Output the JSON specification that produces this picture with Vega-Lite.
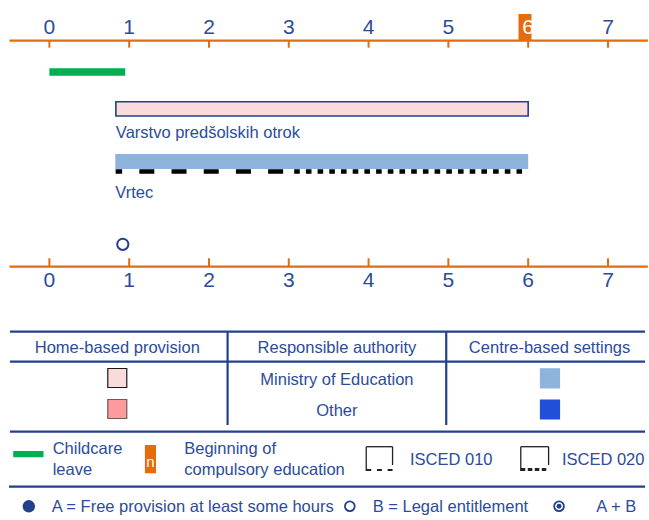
{
  "$schema": "https://vega.github.io/schema/vega-lite/v6.json",
  "width": 649,
  "height": 520,
  "autosize": {"type": "fit", "contains": "padding"},
  "padding": 0,
  "background": "white",
  "config": {"view": {"stroke": null}, "font": "'Liberation Sans', Arial, sans-serif"},
  "resolve": {"scale": {"x": "independent"}},
  "datasets": {
    "ages": [{"age": 0}, {"age": 1}, {"age": 2}, {"age": 3}, {"age": 4}, {"age": 5}, {"age": 6}, {"age": 7}]
  },
  "layer": [
    {
      "data": {"values": [{"from": -0.5, "to": 7.5}]},
      "mark": {"type": "rule", "color": "#E46C0A", "strokeWidth": 2.2},
      "encoding": {
        "x": {"field": "from", "type": "quantitative", "scale": {"domain": [-0.619, 7.464], "nice": false, "zero": false}, "axis": null},
        "x2": {"field": "to"},
        "y": {"datum": 40.7, "type": "quantitative", "scale": {"domain": [0, 520], "reverse": true, "nice": false, "zero": false}, "axis": null}
      }
    },
    {
      "data": {"values": [{"from": -0.5, "to": 7.5}]},
      "mark": {"type": "rule", "color": "#E46C0A", "strokeWidth": 2.2},
      "encoding": {
        "x": {"field": "from", "type": "quantitative", "scale": {"domain": [-0.619, 7.464], "nice": false, "zero": false}, "axis": null},
        "x2": {"field": "to"},
        "y": {"datum": 266.7, "type": "quantitative", "axis": null}
      }
    },
    {
      "data": {"name": "ages"},
      "mark": {"type": "rule", "color": "#E46C0A", "strokeWidth": 2},
      "encoding": {
        "x": {"field": "age", "type": "quantitative", "scale": {"domain": [-0.619, 7.464], "nice": false, "zero": false}, "axis": null},
        "y": {"datum": 41, "type": "quantitative", "axis": null},
        "y2": {"datum": 47.7}
      }
    },
    {
      "data": {"name": "ages"},
      "mark": {"type": "rule", "color": "#E46C0A", "strokeWidth": 2},
      "encoding": {
        "x": {"field": "age", "type": "quantitative", "scale": {"domain": [-0.619, 7.464], "nice": false, "zero": false}, "axis": null},
        "y": {"datum": 258.3, "type": "quantitative", "axis": null},
        "y2": {"datum": 266}
      }
    },
    {
      "data": {"values": [{"age": 6, "note": "Beginning of compulsory education"}]},
      "mark": {"type": "bar", "color": "#E46C0A", "width": 13},
      "encoding": {
        "x": {"field": "age", "type": "quantitative", "scale": {"domain": [-0.619, 7.464], "nice": false, "zero": false}, "axis": null},
        "y": {"datum": 14, "type": "quantitative", "axis": null},
        "y2": {"datum": 40}
      }
    },
    {
      "data": {"name": "ages"},
      "mark": {"type": "text", "fontSize": 21, "baseline": "middle", "align": "center"},
      "encoding": {
        "x": {"field": "age", "type": "quantitative", "scale": {"domain": [-0.619, 7.464], "nice": false, "zero": false}, "axis": null},
        "y": {"datum": 27.8, "type": "quantitative", "axis": null},
        "text": {"field": "age", "type": "quantitative"},
        "color": {"condition": {"test": "datum.age === 6", "value": "white"}, "value": "#2B4C9C"}
      }
    },
    {
      "data": {"name": "ages"},
      "mark": {"type": "text", "fontSize": 21, "baseline": "middle", "align": "center", "color": "#2B4C9C"},
      "encoding": {
        "x": {"field": "age", "type": "quantitative", "scale": {"domain": [-0.619, 7.464], "nice": false, "zero": false}, "axis": null},
        "y": {"datum": 281.3, "type": "quantitative", "axis": null},
        "text": {"field": "age", "type": "quantitative"}
      }
    },
    {
      "data": {"values": [{"provision": "Childcare leave", "start": 0, "end": 0.95}]},
      "mark": {"type": "rect", "color": "#00B050"},
      "encoding": {
        "x": {"field": "start", "type": "quantitative", "scale": {"domain": [-0.619, 7.464], "nice": false, "zero": false}, "axis": null},
        "x2": {"field": "end"},
        "y": {"datum": 68.3, "type": "quantitative", "axis": null},
        "y2": {"datum": 75.7}
      }
    },
    {
      "data": {"values": [{"setting": "Varstvo predšolskih otrok", "start": 0.833, "end": 6}]},
      "mark": {"type": "rect", "fill": "#F9DBDC", "stroke": "#23408F", "strokeWidth": 1.6},
      "encoding": {
        "x": {"field": "start", "type": "quantitative", "scale": {"domain": [-0.619, 7.464], "nice": false, "zero": false}, "axis": null},
        "x2": {"field": "end"},
        "y": {"datum": 101.8, "type": "quantitative", "axis": null},
        "y2": {"datum": 116}
      }
    },
    {
      "data": {"values": [{"setting": "Vrtec", "start": 0.826, "end": 6}]},
      "mark": {"type": "rect", "color": "#8EB4DE"},
      "encoding": {
        "x": {"field": "start", "type": "quantitative", "scale": {"domain": [-0.619, 7.464], "nice": false, "zero": false}, "axis": null},
        "x2": {"field": "end"},
        "y": {"datum": 154, "type": "quantitative", "axis": null},
        "y2": {"datum": 169}
      }
    },
    {
      "data": {"values": [{"level": "ISCED 010", "start": 0.83, "end": 3}]},
      "mark": {"type": "rule", "color": "black", "strokeWidth": 4.5, "strokeDash": [15, 17.2], "strokeDashOffset": 8.5},
      "encoding": {
        "x": {"field": "start", "type": "quantitative", "scale": {"domain": [-0.619, 7.464], "nice": false, "zero": false}, "axis": null},
        "x2": {"field": "end"},
        "y": {"datum": 171.5, "type": "quantitative", "axis": null}
      }
    },
    {
      "data": {"values": [{"level": "ISCED 020", "start": 3, "end": 5.99}]},
      "mark": {"type": "rule", "color": "black", "strokeWidth": 4.5, "strokeDash": [5.6, 6.1], "strokeDashOffset": 6.3},
      "encoding": {
        "x": {"field": "start", "type": "quantitative", "scale": {"domain": [-0.619, 7.464], "nice": false, "zero": false}, "axis": null},
        "x2": {"field": "end"},
        "y": {"datum": 171.5, "type": "quantitative", "axis": null}
      }
    },
    {
      "data": {"values": [{"setting": "Varstvo predšolskih otrok", "start": 0.833}]},
      "mark": {"type": "text", "fontSize": 16.5, "align": "left", "baseline": "alphabetic", "color": "#2B4C9C"},
      "encoding": {
        "x": {"field": "start", "type": "quantitative", "scale": {"domain": [-0.619, 7.464], "nice": false, "zero": false}, "axis": null},
        "y": {"datum": 138, "type": "quantitative", "axis": null},
        "text": {"field": "setting"}
      }
    },
    {
      "data": {"values": [{"setting": "Vrtec", "start": 0.826}]},
      "mark": {"type": "text", "fontSize": 16.5, "align": "left", "baseline": "alphabetic", "color": "#2B4C9C"},
      "encoding": {
        "x": {"field": "start", "type": "quantitative", "scale": {"domain": [-0.619, 7.464], "nice": false, "zero": false}, "axis": null},
        "y": {"datum": 197.7, "type": "quantitative", "axis": null},
        "text": {"field": "setting"}
      }
    },
    {
      "data": {"values": [{"setting": "Vrtec", "age": 0.92, "entitlement": "B = Legal entitlement"}]},
      "mark": {"type": "point", "shape": "circle", "filled": false, "color": "#23408F", "strokeWidth": 2, "size": 125, "opacity": 1},
      "encoding": {
        "x": {"field": "age", "type": "quantitative", "scale": {"domain": [-0.619, 7.464], "nice": false, "zero": false}, "axis": null},
        "y": {"datum": 244.3, "type": "quantitative", "axis": null}
      }
    },
    {
      "data": {"values": [
        {"lx": 10, "lx2": 649, "ly": 331.7, "ly2": 331.7},
        {"lx": 10, "lx2": 649, "ly": 361.7, "ly2": 361.7},
        {"lx": 10, "lx2": 649, "ly": 431.7, "ly2": 431.7},
        {"lx": 9, "lx2": 649, "ly": 486.7, "ly2": 486.7},
        {"lx": 229, "lx2": 229, "ly": 331.7, "ly2": 425},
        {"lx": 449, "lx2": 449, "ly": 331.7, "ly2": 425}
      ]},
      "mark": {"type": "rule", "color": "#23408F", "strokeWidth": 2.2},
      "encoding": {
        "x": {"field": "lx", "type": "quantitative", "scale": {"domain": [0, 649], "nice": false, "zero": false}, "axis": null},
        "x2": {"field": "lx2"},
        "y": {"field": "ly", "type": "quantitative", "axis": null},
        "y2": {"field": "ly2"}
      }
    },
    {
      "data": {"values": [
        {"text": "Home-based provision", "lx": 118, "ly": 353.3},
        {"text": "Responsible authority", "lx": 339, "ly": 353.3},
        {"text": "Centre-based settings", "lx": 553, "ly": 353.3},
        {"text": "Ministry of Education", "lx": 339, "ly": 385},
        {"text": "Other", "lx": 339, "ly": 416}
      ]},
      "mark": {"type": "text", "fontSize": 16.5, "align": "center", "baseline": "alphabetic", "color": "#2B4C9C"},
      "encoding": {
        "x": {"field": "lx", "type": "quantitative", "scale": {"domain": [0, 649], "nice": false, "zero": false}, "axis": null},
        "y": {"field": "ly", "type": "quantitative", "axis": null},
        "text": {"field": "text"}
      }
    },
    {
      "data": {"values": [
        {"item": "Home-based, Ministry of Education", "lx": 118, "ly": 378},
        {"item": "Home-based, Other", "lx": 118, "ly": 409},
        {"item": "Centre-based, Ministry of Education", "lx": 553.4, "ly": 378.3},
        {"item": "Centre-based, Other", "lx": 553.4, "ly": 409.5}
      ]},
      "mark": {"type": "point", "shape": "square", "filled": true, "size": 361, "strokeWidth": 1.2, "opacity": 1},
      "encoding": {
        "x": {"field": "lx", "type": "quantitative", "scale": {"domain": [0, 649], "nice": false, "zero": false}, "axis": null},
        "y": {"field": "ly", "type": "quantitative", "axis": null},
        "fill": {"field": "item", "type": "nominal", "legend": null, "scale": {"domain": ["Home-based, Ministry of Education", "Home-based, Other", "Centre-based, Ministry of Education", "Centre-based, Other"], "range": ["#FADBDC", "#FF9A9E", "#8EB4DE", "#2150D8"]}},
        "stroke": {"field": "item", "type": "nominal", "legend": null, "scale": {"domain": ["Home-based, Ministry of Education", "Home-based, Other", "Centre-based, Ministry of Education", "Centre-based, Other"], "range": ["#1a1a1a", "#6e5a5a", "#8EB4DE", "#2150D8"]}}
      }
    },
    {
      "data": {"values": [{"item": "Childcare leave", "lx": 13.3, "lx2": 43.8, "ly": 451, "ly2": 457.3}]},
      "mark": {"type": "rect", "color": "#00B050"},
      "encoding": {
        "x": {"field": "lx", "type": "quantitative", "scale": {"domain": [0, 649], "nice": false, "zero": false}, "axis": null},
        "x2": {"field": "lx2"},
        "y": {"field": "ly", "type": "quantitative", "axis": null},
        "y2": {"field": "ly2"}
      }
    },
    {
      "data": {"values": [{"item": "Beginning of compulsory education", "lx": 145.8, "lx2": 157, "ly": 445, "ly2": 473.3}]},
      "mark": {"type": "rect", "color": "#E46C0A"},
      "encoding": {
        "x": {"field": "lx", "type": "quantitative", "scale": {"domain": [0, 649], "nice": false, "zero": false}, "axis": null},
        "x2": {"field": "lx2"},
        "y": {"field": "ly", "type": "quantitative", "axis": null},
        "y2": {"field": "ly2"}
      }
    },
    {
      "data": {"values": [{"text": "n", "lx": 151.4, "ly": 467}]},
      "mark": {"type": "text", "fontSize": 15, "align": "center", "baseline": "alphabetic", "color": "white"},
      "encoding": {
        "x": {"field": "lx", "type": "quantitative", "scale": {"domain": [0, 649], "nice": false, "zero": false}, "axis": null},
        "y": {"field": "ly", "type": "quantitative", "axis": null},
        "text": {"field": "text"}
      }
    },
    {
      "data": {"values": [
        {"text": "Childcare", "lx": 53, "ly": 454},
        {"text": "leave", "lx": 53, "ly": 475},
        {"text": "Beginning of", "lx": 185.4, "ly": 454},
        {"text": "compulsory education", "lx": 185.4, "ly": 475},
        {"text": "ISCED 010", "lx": 412.5, "ly": 465},
        {"text": "ISCED 020", "lx": 565.4, "ly": 465},
        {"text": "A = Free provision at least some hours", "lx": 52, "ly": 511.7},
        {"text": "B = Legal entitlement", "lx": 375, "ly": 511.7},
        {"text": "A + B", "lx": 600, "ly": 511.7}
      ]},
      "mark": {"type": "text", "fontSize": 16.5, "align": "left", "baseline": "alphabetic", "color": "#2B4C9C"},
      "encoding": {
        "x": {"field": "lx", "type": "quantitative", "scale": {"domain": [0, 649], "nice": false, "zero": false}, "axis": null},
        "y": {"field": "ly", "type": "quantitative", "axis": null},
        "text": {"field": "text"}
      }
    },
    {
      "data": {"values": [
        {"lx": 368.5, "lx2": 395, "ly": 446.7, "ly2": 446.7},
        {"lx": 368.5, "lx2": 368.5, "ly": 446.7, "ly2": 471},
        {"lx": 395, "lx2": 395, "ly": 446.7, "ly2": 465},
        {"lx": 524, "lx2": 552, "ly": 446.7, "ly2": 446.7},
        {"lx": 524, "lx2": 524, "ly": 446.7, "ly2": 471},
        {"lx": 552, "lx2": 552, "ly": 446.7, "ly2": 465}
      ]},
      "mark": {"type": "rule", "color": "#222222", "strokeWidth": 1.3},
      "encoding": {
        "x": {"field": "lx", "type": "quantitative", "scale": {"domain": [0, 649], "nice": false, "zero": false}, "axis": null},
        "x2": {"field": "lx2"},
        "y": {"field": "ly", "type": "quantitative", "axis": null},
        "y2": {"field": "ly2"}
      }
    },
    {
      "data": {"values": [{"item": "ISCED 010", "lx": 368.5, "lx2": 395, "ly": 470}]},
      "mark": {"type": "rule", "color": "#222222", "strokeWidth": 2, "strokeDash": [5, 5.7]},
      "encoding": {
        "x": {"field": "lx", "type": "quantitative", "scale": {"domain": [0, 649], "nice": false, "zero": false}, "axis": null},
        "x2": {"field": "lx2"},
        "y": {"field": "ly", "type": "quantitative", "axis": null}
      }
    },
    {
      "data": {"values": [{"item": "ISCED 020", "lx": 524, "lx2": 552, "ly": 469.5}]},
      "mark": {"type": "rule", "color": "#222222", "strokeWidth": 3, "strokeDash": [4.5, 2.5]},
      "encoding": {
        "x": {"field": "lx", "type": "quantitative", "scale": {"domain": [0, 649], "nice": false, "zero": false}, "axis": null},
        "x2": {"field": "lx2"},
        "y": {"field": "ly", "type": "quantitative", "axis": null}
      }
    },
    {
      "data": {"values": [{"item": "A", "lx": 29, "ly": 506.3}]},
      "mark": {"type": "point", "shape": "circle", "filled": true, "color": "#23408F", "size": 154, "opacity": 1},
      "encoding": {
        "x": {"field": "lx", "type": "quantitative", "scale": {"domain": [0, 649], "nice": false, "zero": false}, "axis": null},
        "y": {"field": "ly", "type": "quantitative", "axis": null}
      }
    },
    {
      "data": {"values": [{"item": "B", "lx": 352, "ly": 506.3}, {"item": "A + B", "lx": 562.5, "ly": 506.3}]},
      "mark": {"type": "point", "shape": "circle", "filled": false, "color": "#23408F", "size": 95, "strokeWidth": 1.8, "opacity": 1},
      "encoding": {
        "x": {"field": "lx", "type": "quantitative", "scale": {"domain": [0, 649], "nice": false, "zero": false}, "axis": null},
        "y": {"field": "ly", "type": "quantitative", "axis": null}
      }
    },
    {
      "data": {"values": [{"item": "A + B", "lx": 562.5, "ly": 506.3}]},
      "mark": {"type": "point", "shape": "circle", "filled": true, "color": "#23408F", "size": 24, "opacity": 1},
      "encoding": {
        "x": {"field": "lx", "type": "quantitative", "scale": {"domain": [0, 649], "nice": false, "zero": false}, "axis": null},
        "y": {"field": "ly", "type": "quantitative", "axis": null}
      }
    }
  ]
}
